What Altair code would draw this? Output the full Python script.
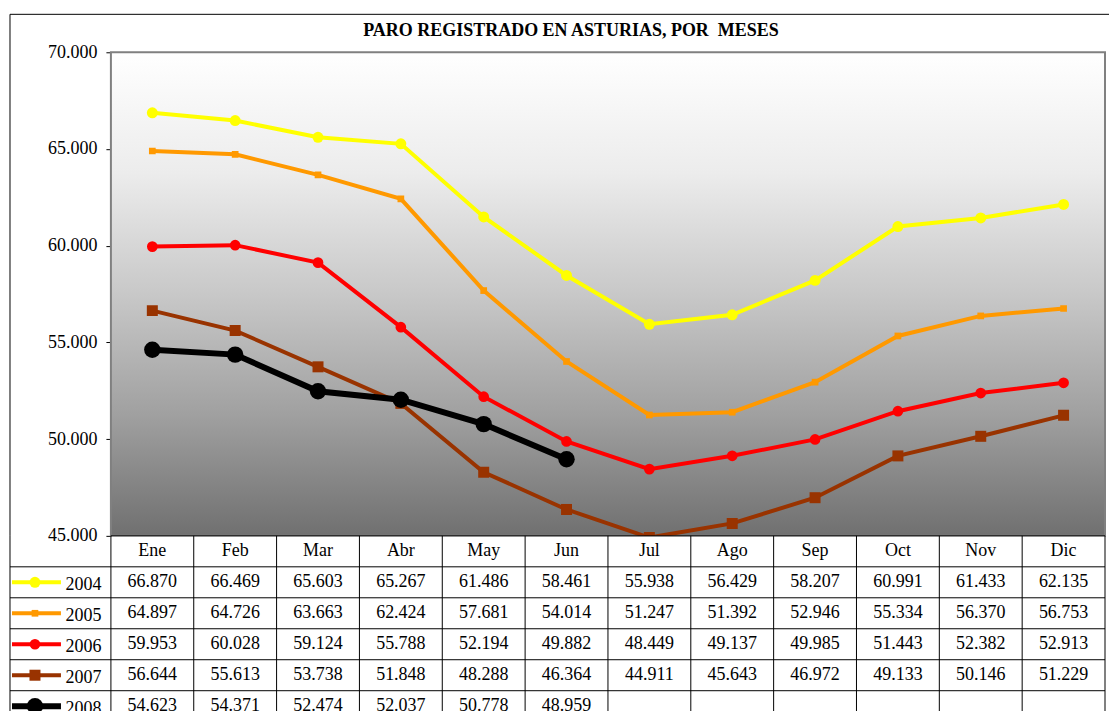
import altair as alt
import pandas as pd

# ---------------- data ----------------
months = ["Ene", "Feb", "Mar", "Abr", "May", "Jun", "Jul", "Ago", "Sep", "Oct", "Nov", "Dic"]
years = ["2004", "2005", "2006", "2007", "2008"]
v2004 = [66870, 66469, 65603, 65267, 61486, 58461, 55938, 56429, 58207, 60991, 61433, 62135]
v2005 = [64897, 64726, 63663, 62424, 57681, 54014, 51247, 51392, 52946, 55334, 56370, 56753]
v2006 = [59953, 60028, 59124, 55788, 52194, 49882, 48449, 49137, 49985, 51443, 52382, 52913]
v2007 = [56644, 55613, 53738, 51848, 48288, 46364, 44911, 45643, 46972, 49133, 50146, 51229]
v2008 = [54623, 54371, 52474, 52037, 50778, 48959]
y_ticks = [45000, 50000, 55000, 60000, 65000, 70000]
title_text = "PARO REGISTRADO EN ASTURIAS, POR \u00a0MESES"

# ---------------- styles ----------------
colors = ["#FFFF00", "#FF9900", "#FF0000", "#993300", "#000000"]
shapes = ["circle", "square", "circle", "square", "circle"]
marker_sizes = [120, 45, 115, 121, 270]
legend_sizes = [100, 36, 100, 100, 130]
line_widths = [4, 4, 4, 4, 6]
FONT = "Liberation Serif"
W, H = 995, 484
ROW = 31
TH = ROW * 6
LEFT = 101

rows = []
for y, vals in zip(years, [v2004, v2005, v2006, v2007, v2008]):
    for m, v in zip(months, vals):
        rows.append({"year": y, "row": y, "month": m, "value": v})
df = pd.DataFrame(rows)

color = alt.Color("year:N", scale=alt.Scale(domain=years, range=colors), legend=None)
shape = alt.Shape("year:N", scale=alt.Scale(domain=years, range=shapes), legend=None)
swidth = alt.StrokeWidth("year:N", scale=alt.Scale(type="ordinal", domain=years, range=line_widths),
                         legend=None)


def sizes(rng):
    return alt.Size("year:N", scale=alt.Scale(type="ordinal", domain=years, range=rng), legend=None)


# ---------------- top chart ----------------
xs = alt.X("month:N", sort=months, scale=alt.Scale(type="point", padding=0.5), axis=None)
ys = alt.Y(
    "value:Q",
    scale=alt.Scale(domain=[45000, 70000], nice=False, zero=False),
    axis=alt.Axis(values=y_ticks, format=",d", title=None, labelFont=FONT, labelFontSize=18,
                  labelColor="black", labelPadding=9, tickSize=5, tickColor="black",
                  domainColor="black", grid=True, gridColor="black", gridWidth=1),
)

one = pd.DataFrame({"t": [title_text]})

gradient = alt.LinearGradient(
    gradient="linear", x1=0, y1=0, x2=0, y2=1,
    stops=[
        alt.GradientStop(offset=0, color="#ffffff"),
        alt.GradientStop(offset=0.25, color="#ececec"),
        alt.GradientStop(offset=0.5, color="#c8c8c8"),
        alt.GradientStop(offset=0.75, color="#a0a0a0"),
        alt.GradientStop(offset=1, color="#707070"),
    ],
)
bg = alt.Chart(one).mark_rect(color=gradient).encode(
    x=alt.value(0), x2=alt.value(W), y=alt.value(0), y2=alt.value(H))

lines = alt.Chart(df).mark_line(clip=True).encode(x=xs, y=ys, color=color, strokeWidth=swidth)
points = alt.Chart(df).mark_point(filled=True, opacity=1, clip=True).encode(
    x=xs, y=ys, color=color, shape=shape, size=sizes(marker_sizes))

title = alt.Chart(one).mark_text(font=FONT, fontSize=18, fontWeight="bold", align="center",
                                 baseline="alphabetic", color="black").encode(
    text="t:N", x=alt.value(460.5), y=alt.value(-16))
border_top = alt.Chart(one).mark_rule(color="black", strokeWidth=1).encode(
    x=alt.value(-LEFT), x2=alt.value(999), y=alt.value(-38))
border_left_top = alt.Chart(one).mark_rule(color="black", strokeWidth=1).encode(
    x=alt.value(-LEFT), y=alt.value(-38), y2=alt.value(H))
plot_border = alt.Chart(one).mark_rect(fill="transparent", stroke="#808080", strokeWidth=2).encode(
    x=alt.value(0), x2=alt.value(W), y=alt.value(0), y2=alt.value(H))

top = alt.layer(bg, plot_border, border_top, border_left_top, lines, points, title).properties(
    width=W, height=H,
    view=alt.ViewBackground(fill="white", stroke="transparent"),
)

# ---------------- table chart ----------------
row_domain = ["hdr"] + years


def tx(band=0.5):
    return alt.X("month:N", sort=months, bandPosition=band,
                 scale=alt.Scale(type="band", domain=months, paddingInner=0, paddingOuter=0), axis=None)


def ty(band=0.5):
    return alt.Y("row:N", bandPosition=band,
                 scale=alt.Scale(type="band", domain=row_domain, paddingInner=0, paddingOuter=0),
                 axis=alt.Axis(title=None, ticks=False, tickSize=0, domain=False,
                               labelExpr="datum.value == 'hdr' ? '' : datum.value",
                               labelFont=FONT, labelFontSize=18, labelColor="black",
                               labelPadding=10, labelOffset=3))


hdr_df = pd.DataFrame({"month": months, "row": ["hdr"] * len(months)})
yr_df = pd.DataFrame({"row": years, "year": years})
hdr_row = pd.DataFrame({"row": ["hdr"]})

cells = alt.Chart(df).mark_text(font=FONT, fontSize=18, color="black").encode(
    x=tx(), y=ty(), text=alt.Text("value:Q", format=",d"))
header = alt.Chart(hdr_df).mark_text(font=FONT, fontSize=18, color="black").encode(
    x=tx(), y=ty(), text="month:N")
hlines = alt.Chart(yr_df).mark_rule(color="black", strokeWidth=1).encode(
    y=ty(0), x=alt.value(-LEFT), x2=alt.value(W))
hline_top = alt.Chart(hdr_row).mark_rule(color="black", strokeWidth=1).encode(
    y=ty(0), x=alt.value(0), x2=alt.value(W))
vlines = alt.Chart(hdr_df).mark_rule(color="black", strokeWidth=1).encode(
    x=tx(0), y=alt.value(0), y2=alt.value(TH))
vright = alt.Chart(one).mark_rule(color="black", strokeWidth=1).encode(
    x=alt.value(W), y=alt.value(0), y2=alt.value(TH))
border_left_tab = alt.Chart(one).mark_rule(color="black", strokeWidth=1).encode(
    x=alt.value(-LEFT), y=alt.value(0), y2=alt.value(TH))
leg_lines = alt.Chart(yr_df).mark_rule().encode(
    y=ty(), x=alt.value(-99), x2=alt.value(-50), color=color, strokeWidth=swidth)
leg_points = alt.Chart(yr_df).mark_point(filled=True, opacity=1).encode(
    y=ty(), x=alt.value(-76), color=color, shape=shape, size=sizes(legend_sizes))

table = alt.layer(hline_top, hlines, vlines, vright, border_left_tab, cells, header,
                  leg_lines, leg_points).properties(
    width=W, height=TH,
    view=alt.ViewBackground(fill="white", stroke="transparent"),
)

chart = alt.vconcat(top, table, spacing=0, bounds="flush").properties(
    padding={"left": 0, "top": 5, "right": 0, "bottom": 0},
    background="white",
).configure(
    font=FONT,
    locale={"number": {"decimal": ",", "thousands": ".", "grouping": [3], "currency": ["", " €"]}},
)

chart.save("out.html", embed_options={"renderer": "svg", "actions": False})
